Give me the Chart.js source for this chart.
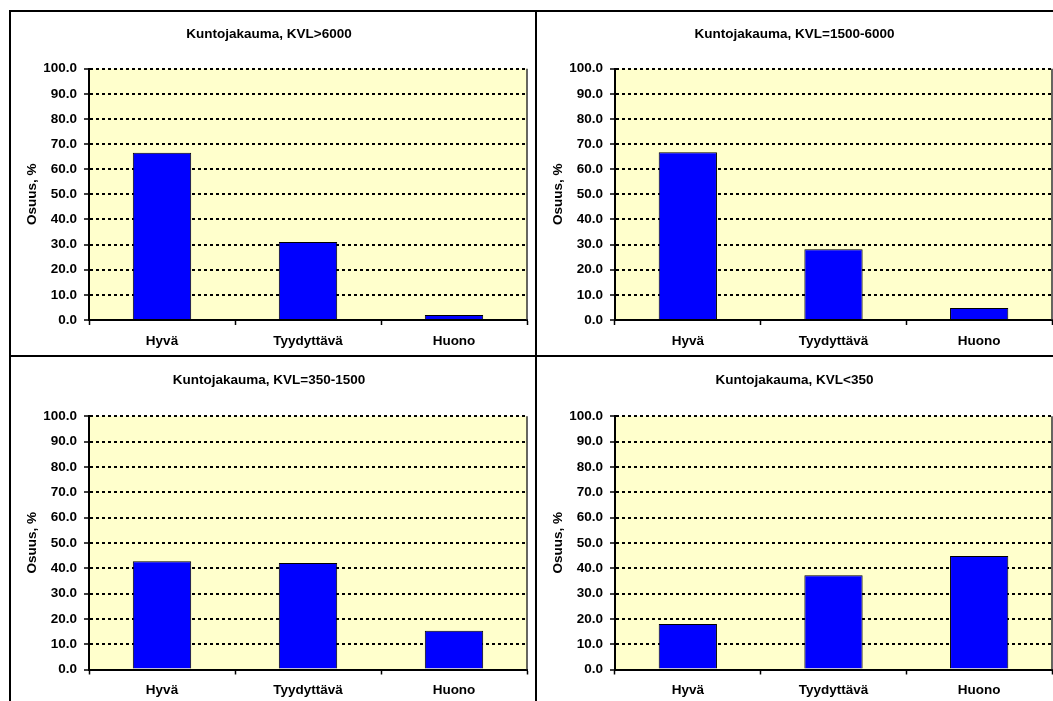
<!DOCTYPE html>
<html>
<head>
<meta charset="utf-8">
<title>Kuntojakauma</title>
<script src="https://cdn.jsdelivr.net/npm/chart.js@4/dist/chart.umd.min.js"></script>
<style>
  html, body { margin: 0; padding: 0; background: #fff; }
  body { width: 1053px; height: 701px; overflow: hidden; position: relative; }
  .line { position: absolute; background: #000; }
  canvas { position: absolute; }
</style>
</head>
<body>
<div class="line" style="left:9px; top:10px; width:1060px; height:2px;"></div>
<div class="line" style="left:9px; top:10px; width:2px; height:700px;"></div>
<div class="line" style="left:535px; top:10px; width:2px; height:700px;"></div>
<div class="line" style="left:9px; top:355px; width:1060px; height:2px;"></div>

<canvas id="c1"></canvas>
<canvas id="c2"></canvas>
<canvas id="c3"></canvas>
<canvas id="c4"></canvas>

<script>
// Condition classes (x axis)
const categories = ['Hyvä', 'Tyydyttävä', 'Huono'];

// Share of road length per condition class, % — one array per traffic volume group
const kvlOver6000 = [66.6, 31.0, 2.0];
const kvl1500to6000 = [66.8, 28.2, 4.8];
const kvl350to1500 = [42.7, 42.0, 15.3];
const kvlUnder350 = [18.0, 37.2, 44.8];

// Panel titles
const titles = [
  'Kuntojakauma, KVL>6000',
  'Kuntojakauma, KVL=1500-6000',
  'Kuntojakauma, KVL=350-1500',
  'Kuntojakauma, KVL<350'
];

// Y axis
const yAxisTitle = 'Osuus, %';
const yMin = 0;
const yMax = 100;
const yStep = 10;

const FONT = "'Liberation Sans', Arial, Helvetica, sans-serif";
const FONT_SIZE = 13.5;

// Pale yellow plot area with a thin frame on its right side
const plotBackground = {
  id: 'plotBackground',
  beforeDraw(chart) {
    const {ctx, chartArea: a} = chart;
    ctx.save();
    ctx.fillStyle = '#FFFFCC';
    ctx.fillRect(a.left, a.top, a.right - a.left, a.bottom - a.top);
    ctx.restore();
  },
  afterDraw(chart) {
    const {ctx, chartArea: a} = chart;
    ctx.save();
    ctx.strokeStyle = '#333';
    ctx.lineWidth = 1.5;
    ctx.beginPath();
    ctx.moveTo(a.right, a.top);
    ctx.lineTo(a.right, a.bottom);
    ctx.stroke();
    ctx.restore();
  }
};

function makeChart(id, frame, title, values) {
  const canvas = document.getElementById(id);
  canvas.style.left = frame.x + 'px';
  canvas.style.top = frame.y + 'px';
  canvas.width = frame.w;
  canvas.height = frame.h;
  canvas.style.width = frame.w + 'px';
  canvas.style.height = frame.h + 'px';

  const font = { family: FONT, size: FONT_SIZE, weight: 'bold' };

  return new Chart(canvas, {
    type: 'bar',
    data: {
      labels: categories,
      datasets: [{
        data: values,
        backgroundColor: '#0000FF',
        borderColor: '#000000',
        borderWidth: 1,
        barPercentage: 0.4,
        categoryPercentage: 1.0
      }]
    },
    options: {
      responsive: false,
      animation: false,
      devicePixelRatio: 1,
      layout: { padding: { left: 0, right: frame.padRight, top: 0, bottom: 0 } },
      plugins: {
        legend: { display: false },
        tooltip: { enabled: false },
        title: {
          display: true,
          text: title,
          color: '#000',
          font: font,
          padding: { top: frame.titleTop, bottom: frame.titleBottom }
        }
      },
      scales: {
        x: {
          offset: true,
          grid: {
            display: true,
            offset: true,
            drawOnChartArea: false,
            drawTicks: true,
            tickLength: 5,
            tickColor: '#000',
            tickWidth: 1.5
          },
          border: { display: true, color: '#000', width: 2 },
          ticks: {
            color: '#000',
            padding: 8,
            maxRotation: 0,
            font: font
          },
          afterFit(scale) { scale.height = frame.xHeight; }
        },
        y: {
          min: yMin,
          max: yMax,
          grid: {
            color: '#000',
            lineWidth: 2,
            drawTicks: true,
            tickLength: 5,
            tickColor: '#000',
            tickWidth: 1.5
          },
          border: { display: true, color: '#000', width: 2, dash: [3, 3] },
          ticks: {
            stepSize: yStep,
            color: '#000',
            padding: 7,
            font: font,
            callback: v => Number(v).toFixed(1)
          },
          title: {
            display: true,
            text: yAxisTitle,
            color: '#000',
            font: font,
            padding: { top: 13, bottom: 0 }
          },
          afterFit(scale) { scale.width = frame.yWidth; }
        }
      }
    },
    plugins: [plotBackground]
  });
}

const topRow = { titleTop: 14, titleBottom: 26.5, xHeight: 35, padRight: 8, yWidth: 78 };
const bottomRow = { titleTop: 15, titleBottom: 28, xHeight: 33.5, padRight: 8, yWidth: 78 };

makeChart('c1', Object.assign({ x: 11, y: 12, w: 524, h: 343 }, topRow), titles[0], kvlOver6000);
makeChart('c2', Object.assign({ x: 537, y: 12, w: 524, h: 343 }, topRow, { padRight: 9 }), titles[1], kvl1500to6000);
makeChart('c3', Object.assign({ x: 11, y: 357, w: 524, h: 346 }, bottomRow), titles[2], kvl350to1500);
makeChart('c4', Object.assign({ x: 537, y: 357, w: 524, h: 346 }, bottomRow, { padRight: 9 }), titles[3], kvlUnder350);
</script>
</body>
</html>
